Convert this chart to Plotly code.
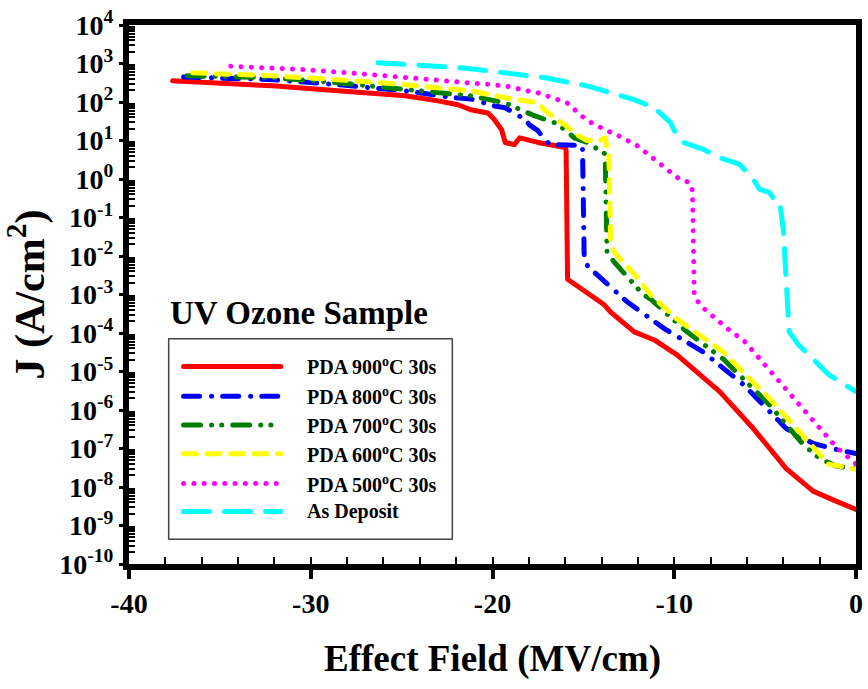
import plotly.graph_objects as go

# Current density vs. effective field, UV-ozone treated samples
field_900 = [-37.6, -35.0, -32.1, -28.5, -24.8, -23.0, -21.9, -21.2, -20.8, -20.25, -19.9, -19.5,
             -19.3, -18.8, -18.5, -17.5, -16.0, -15.95, -15.87, -13.85, -13.5, -12.2, -11.1,
             -9.85, -7.5, -5.65, -3.84, -2.36, -1.1, 0.0]
j_900 = [355, 316, 263, 195, 145, 107, 85, 63, 59, 52, 35, 19,
         8.9, 7.8, 11.7, 8.9, 6.6, 5.6, 2.5e-3, 5.4e-4, 3.5e-4, 1.07e-4, 6.6e-5,
         2.7e-5, 3.0e-6, 3.3e-7, 3.0e-8, 7.8e-9, 4.3e-9, 2.6e-9]

field_800 = [-37.0, -32.1, -28.5, -24.8, -22.1, -21.2, -19.9, -19.3, -18.2, -17.95, -17.5, -17.1,
             -16.8, -15.7, -15.05, -14.95, -14.6, -12.6, -10.55, -8.4, -6.2, -3.84, -2.36,
             -1.1, 0.0]
j_800 = [447, 380, 282, 195, 129, 120, 79, 71, 35, 25, 18, 10,
         7.8, 7.8, 7.4, 6.9e-3, 4.6e-3, 6.5e-4, 1.3e-4, 3.2e-5, 4.6e-6, 3.3e-7, 1.35e-7,
         9.5e-8, 7.4e-8]

field_700 = [-36.8, -32.1, -28.5, -24.8, -21.2, -19.3, -18.4, -17.7, -16.6, -16.0, -15.5, -14.8,
             -14.1, -13.8, -13.7, -13.3, -11.7, -11.3, -9.3, -7.3, -4.77, -2.9, -2.0, -1.1, 0.0]
j_700 = [479, 427, 316, 209, 145, 95, 59, 44, 29, 19, 11.7, 8.9,
         5.5, 4.5, 1.26e-2, 6.9e-3, 9.8e-4, 7.6e-4, 1.07e-4, 2.1e-5, 1.38e-6, 1.26e-7,
         5.5e-8, 3.5e-8, 3.0e-8]

field_600 = [-36.5, -32.1, -28.5, -24.8, -21.2, -19.3, -17.5, -17.1, -16.0, -15.3, -14.8, -14.1,
             -13.8, -13.6, -13.5, -13.3, -12.05, -11.3, -9.85, -7.3, -4.77, -2.9, -1.5, 0.0]
j_600 = [575, 479, 380, 282, 195, 129, 95, 59, 25, 13.5, 10, 10,
         11.7, 4.0, 2.3e-2, 1.26e-2, 2.8e-3, 9.8e-4, 2.3e-4, 3.2e-5, 2.0e-6, 2.0e-7,
         3.9e-8, 2.9e-8]

field_500 = [-34.4, -30.3, -26.65, -23.0, -20.8, -19.3, -18.1, -17.5, -15.9, -14.8, -13.7, -13.1,
             -12.05, -11.05, -9.7, -9.15, -9.0, -8.9, -8.6, -8.05, -6.85, -6.2, -4.2, -2.2,
             -1.1, 0.0]
j_500 = [851, 692, 513, 380, 316, 263, 195, 174, 95, 33, 18, 13.5,
         7.4, 3.2, 0.98, 0.81, 0.5, 9.8e-4, 5.4e-4, 3.2e-4, 1.07e-4, 6.6e-5, 5.4e-6, 4.2e-7,
         1.1e-7, 4.0e-8]

field_dep = [-26.3, -24.1, -21.7, -20.25, -17.1, -14.8, -12.2, -11.1, -10.2, -10.0, -9.5, -8.4,
             -7.5, -6.4, -5.65, -5.3, -5.1, -4.77, -4.4, -4.2, -4.0, -3.95, -3.84, -3.73,
             -3.68, -3.15, -2.2, -1.5, -0.71, 0.0]
j_dep = [1047, 912, 776, 646, 427, 263, 115, 71, 29, 18, 8.9, 5.9,
         3.6, 2.4, 0.98, 0.54, 0.5, 0.45, 0.25, 0.25, 4.9e-2, 1.9e-2, 1.4e-3, 1.95e-4,
         1.07e-4, 4.9e-5, 1.8e-5, 8.3e-6, 4.8e-6, 3.0e-6]

series_names = ["PDA 900<sup>o</sup>C 30s", "PDA 800<sup>o</sup>C 30s", "PDA 700<sup>o</sup>C 30s",
                "PDA 600<sup>o</sup>C 30s", "PDA 500<sup>o</sup>C 30s", "As Deposit"]

x_tick_vals = [-40, -30, -20, -10, 0]
x_tick_text = ["-40", "-30", "-20", "-10", "0"]
y_tick_exps = list(range(-10, 5))
y_tick_vals = [10.0 ** e for e in y_tick_exps]
y_tick_text = ["10<sup>%d</sup>" % e for e in y_tick_exps]

colors = ["#FF0000", "#0000FF", "#008000", "#FFFF00", "#FF00FF", "#00FFFF"]
# dash patterns are laid out for round line caps (caps add half a width at each end)
dashes = ["solid", "16px,12px,0.1px,11px", "17px,11px,0.1px,10px,0.1px,11px",
          "13px,10.5px", "0.1px,10.2px", "26px,15px"]
LW = 5

FONT = "Liberation Serif"

fig = go.Figure()
data = [(field_900, j_900), (field_800, j_800), (field_700, j_700),
        (field_600, j_600), (field_500, j_500), (field_dep, j_dep)]
for (xs, ys), name, c, d in zip(data, series_names, colors, dashes):
    fig.add_trace(go.Scatter(x=xs, y=ys, mode="lines", name=name, showlegend=False,
                             line=dict(color=c, width=LW, dash=d)))

# plot-area geometry (pixels)
L, R, T, B = 129, 862, 21, 564
W, H = 868, 689


def px_x(p):
    return (p - L) / (R - L)


def px_y(p):
    return (B - p) / (B - T)


shapes = [dict(type="rect", xref="paper", yref="paper",
               x0=px_x(169), x1=px_x(455), y0=px_y(539), y1=px_y(337),
               line=dict(color="#444444", width=1.5), fillcolor="rgba(0,0,0,0)")]
annotations = [dict(text="<b>UV Ozone Sample</b>", xref="paper", yref="paper",
                    x=px_x(168), y=px_y(311), xanchor="left", yanchor="middle",
                    showarrow=False, font=dict(family=FONT, size=33, color="black"))]
row_y = [365, 395, 424, 453, 483, 511]
for ry, name, c, d in zip(row_y, series_names, colors, dashes):
    shapes.append(dict(type="line", xref="paper", yref="paper",
                       x0=px_x(184), x1=px_x(282), y0=px_y(ry), y1=px_y(ry),
                       line=dict(color=c, width=LW, dash=d)))
    annotations.append(dict(text="<b>%s</b>" % name, xref="paper", yref="paper",
                            x=px_x(306), y=px_y(ry), xanchor="left", yanchor="middle",
                            showarrow=False, font=dict(family=FONT, size=20, color="black")))

y_minor = [k * 10.0 ** e for e in range(-10, 4) for k in range(2, 10)]

fig.update_layout(
    width=W, height=H,
    margin=dict(l=L, r=W - R, t=T, b=H - B),
    plot_bgcolor="white", paper_bgcolor="white",
    shapes=shapes, annotations=annotations,
    xaxis=dict(range=[-40, 0], tickmode="array", tickvals=x_tick_vals, ticktext=x_tick_text,
               showgrid=False, zeroline=False, showline=True, linecolor="black", linewidth=6,
               mirror=True, ticks="outside", ticklen=9, tickwidth=4, tickcolor="black",
               tickfont=dict(family=FONT, size=28, color="black", weight="bold"),
               minor=dict(tickmode="array", tickvals=list(range(-38, 0, 2)), ticks="inside",
                          ticklen=7, tickwidth=2, tickcolor="black", showgrid=False),
               title=dict(text="Effect Field (MV/cm)", standoff=30,
                          font=dict(family=FONT, size=37, color="black", weight="bold"))),
    yaxis=dict(type="log", range=[-10, 4], tickmode="array", tickvals=y_tick_vals,
               ticktext=y_tick_text, showgrid=False, zeroline=False, showline=True,
               linecolor="black", linewidth=6, mirror=True, ticks="outside", ticklen=4,
               tickwidth=3, tickcolor="black",
               tickfont=dict(family=FONT, size=28, color="black", weight="bold"),
               minor=dict(tickmode="array", tickvals=y_minor, ticks="inside", ticklen=6,
                          tickwidth=2, tickcolor="black", showgrid=False),
               title=dict(text="J (A/cm<sup>2</sup>)", standoff=8,
                          font=dict(family=FONT, size=42, color="black", weight="bold"))),
)

# round line caps for the curves and the legend samples
round_caps = """
var gd = document.querySelector('.js-plotly-plot');
function roundCaps() {
  document.querySelectorAll('.scatterlayer path.js-line, .shapelayer path').forEach(function (p) {
    p.style.strokeLinecap = 'round';
    p.style.strokeLinejoin = 'round';
  });
}
roundCaps();
if (gd && gd.on) { gd.on('plotly_afterplot', roundCaps); }
"""

fig.write_html("out.html", post_script=round_caps)
